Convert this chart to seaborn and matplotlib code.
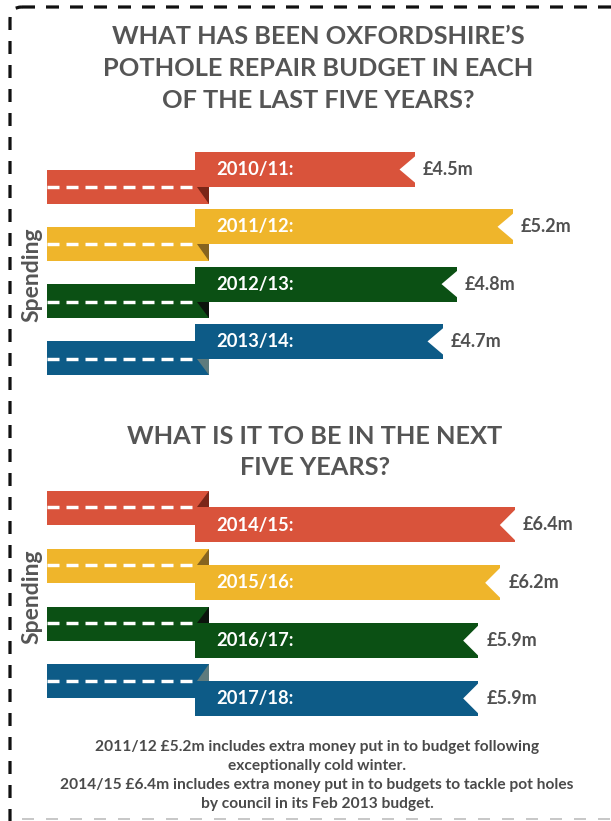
import matplotlib
matplotlib.use("Agg")
import matplotlib.pyplot as plt
import matplotlib.transforms as mtransforms
from matplotlib.patches import Rectangle, Polygon, FancyBboxPatch
import pandas as pd
import seaborn as sns

# ---- data -------------------------------------------------------------
past_years = ["2010/11", "2011/12", "2012/13", "2013/14"]
past_spend = [4.5, 5.2, 4.8, 4.7]          # £m
future_years = ["2014/15", "2015/16", "2016/17", "2017/18"]
future_spend = [6.4, 6.2, 5.9, 5.9]        # £m

ribbon_colors = ["#d9533b", "#efb52b", "#0b5014", "#0d5b87"]
fold_colors = ["#7a2618", "#866420", "#0c140c", "#5e7b7d"]

title_past = ["WHAT HAS BEEN OXFORDSHIRE\u2019S",
              "POTHOLE REPAIR BUDGET IN EACH",
              "OF THE LAST FIVE YEARS?"]
title_future = ["WHAT IS IT TO BE IN THE NEXT", "FIVE YEARS?"]
axis_label = "Spending"
notes = ["2011/12 \u00a35.2m includes extra money put in to budget following",
         "exceptionally cold winter.",
         "2014/15 \u00a36.4m includes extra money put in to budgets to tackle pot holes",
         "by council in its Feb 2013 budget."]

# ---- style ------------------------------------------------------------
sns.set_style("white")
plt.rcParams["font.family"] = ["Lato", "DejaVu Sans"]
plt.rcParams["font.weight"] = "bold"

W, H = 611, 821
TEXT = "#555555"
fig = plt.figure(figsize=(W / 100, H / 100), dpi=100)
fig.patch.set_facecolor("white")


def fy(px):
    return 1 - px / H


def pt(px):
    return px * 0.72


# full-figure layer in pixel units for the frame
deco = fig.add_axes([0, 0, 1, 1], zorder=0)
deco.set_xlim(0, W)
deco.set_ylim(H, 0)
deco.axis("off")
frame_lw = pt(3.2)
deco.add_patch(FancyBboxPatch((10, 7), 700, 860,
                              boxstyle="round,pad=0,rounding_size=12",
                              fill=False, ec="#111111", lw=frame_lw,
                              ls=(0, (pt(13) / frame_lw, pt(11) / frame_lw))))
deco.plot([22, W], [819, 819], color="#c8c8c8", lw=pt(2),
          ls=(0, (pt(12) / pt(2), pt(12) / pt(2))))

# ribbon layout (pixels)
FRONT_LEFT = 195
BACK_LEFT, BACK_RIGHT = 47, 209
FOLD_LEFT = 197
DASH_END = 193
FRONT_H = 35
BACK_H = 34
BACK_SHIFT = 17
NOTCH = 15


def draw_panel(years, spend, first_center, row_px, origin_px, ppu, back_dir):
    top = first_center - row_px / 2
    ax = fig.add_axes([FRONT_LEFT / W, fy(top + 4 * row_px),
                       (W - FRONT_LEFT) / W, 4 * row_px / H], zorder=1)
    df = pd.DataFrame({"year": years, "spend": spend})
    sns.barplot(data=df, x="spend", y="year", hue="year", palette=ribbon_colors,
                orient="h", width=FRONT_H / row_px, saturation=1, legend=False,
                errorbar=None, linewidth=0, ax=ax)
    ax.set_xlim((FRONT_LEFT - origin_px) / ppu, (W - origin_px) / ppu)
    ax.set_ylim(3.5, -0.5)
    ax.axis("off")
    ax.patch.set_alpha(0)

    trans = mtransforms.blended_transform_factory(fig.transFigure, ax.transData)
    u = 1 / row_px
    fh = FRONT_H * u
    dash_lw = pt(3.4)
    for i, (yr, v) in enumerate(zip(years, spend)):
        yc = i + back_dir * BACK_SHIFT * u
        y_front_edge = i + back_dir * fh / 2
        y_back_edge = yc + back_dir * BACK_H * u / 2
        # back piece of the ribbon
        ax.add_patch(Rectangle((BACK_LEFT / W, yc - BACK_H * u / 2),
                               (BACK_RIGHT - BACK_LEFT) / W, BACK_H * u,
                               transform=trans, color=ribbon_colors[i], lw=0,
                               clip_on=False, zorder=0.5))
        # fold shadow
        ax.add_patch(Polygon([(FOLD_LEFT / W, y_front_edge),
                              (BACK_RIGHT / W, y_front_edge),
                              (BACK_RIGHT / W, y_back_edge)],
                             closed=True, transform=trans, color=fold_colors[i],
                             lw=0, clip_on=False, zorder=0.6))
        # dashed road marking
        ax.plot([BACK_LEFT / W, DASH_END / W], [y_front_edge, y_front_edge],
                transform=trans, color="white", lw=dash_lw, clip_on=False,
                ls=(0, (pt(12) / dash_lw, pt(7) / dash_lw)), zorder=0.7)
        # notched ribbon tail
        notch = NOTCH / ppu
        ax.add_patch(Polygon([(v + 0.05, i - fh / 2 - 0.02), (v - notch, i),
                              (v + 0.05, i + fh / 2 + 0.02)],
                             closed=True, color="white", lw=0, zorder=3))
        ax.text(216 / W, i, yr + ":", transform=trans, color="white",
                fontsize=13.2, fontweight="bold", ha="left", va="center", zorder=4)
        ax.annotate(f"\u00a3{v}m", xy=(v, i), xytext=(pt(8), 0),
                    textcoords="offset points", color="#505050", fontsize=13,
                    fontweight="bold", ha="left", va="center", zorder=4)
    return ax


draw_panel(past_years, past_spend, 169.5, 57.3, -215.5, 140.0, +1)
draw_panel(future_years, future_spend, 525.0, 57.8, 45.7, 73.3, -1)

# titles
for k, line in enumerate(title_past):
    fig.text(318 / W, fy(36.5 + 32 * k), line, ha="center", va="center",
             fontsize=18.3, fontweight="bold", color=TEXT)
for k, line in enumerate(title_future):
    fig.text(315 / W, fy(436 + 31 * k), line, ha="center", va="center",
             fontsize=18.3, fontweight="bold", color=TEXT)

# axis labels
for yc in (275, 597):
    fig.text(32 / W, fy(yc), axis_label, rotation=90, ha="center", va="center",
             fontsize=16.5, fontweight="bold", color=TEXT)

# footnotes
for k, line in enumerate(notes):
    fig.text(317 / W, fy(747 + 19 * k), line, ha="center", va="center",
             fontsize=11.2, fontweight="bold", color="#4a4a4a")

fig.savefig("out.png", dpi=100, facecolor="white")
